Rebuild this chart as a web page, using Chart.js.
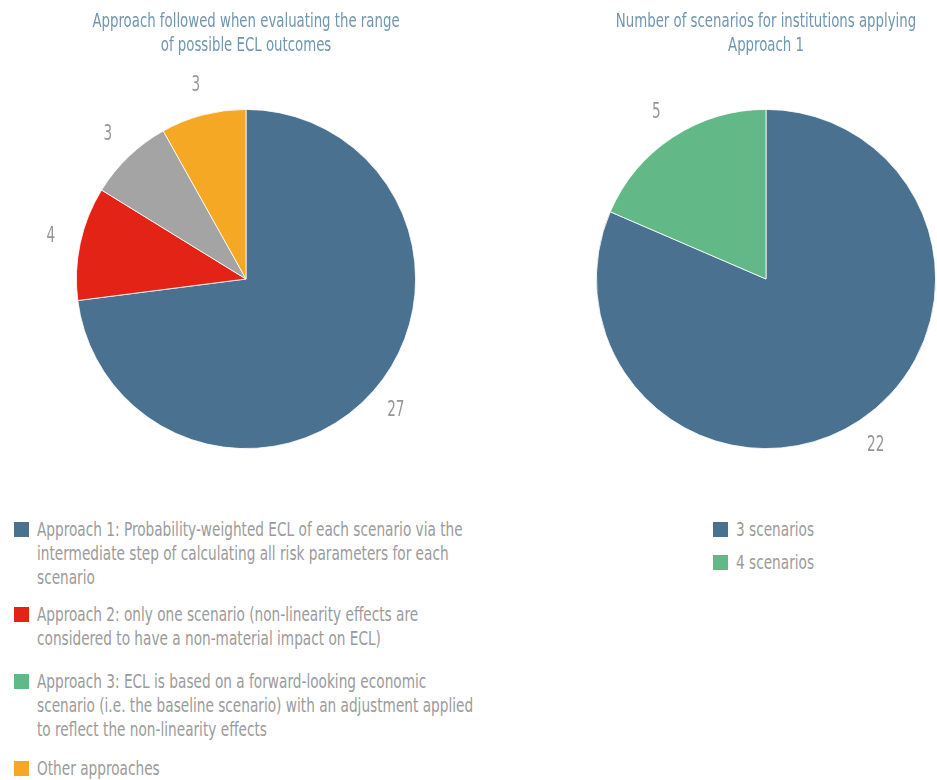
<!DOCTYPE html>
<html>
<head>
<meta charset="utf-8">
<script src="https://cdn.jsdelivr.net/npm/chart.js@4.4.0/dist/chart.umd.min.js"></script>
<style>
  body { margin: 0; background: #fff; width: 937px; height: 780px; position: relative; overflow: hidden; }
  .box { position: absolute; }
  .legend { position: absolute; font-family: "DejaVu Sans Condensed", sans-serif; font-size: 20px; color: #9b9b9b; line-height: 24px; }
  .legend .item { position: relative; padding-left: 23px; }
  .legend .sw { position: absolute; left: 0; top: 5px; width: 15px; height: 15px; }
  .legend .txt { transform: scaleX(0.76); transform-origin: left center; white-space: nowrap; }
</style>
</head>
<body>
<div class="box" style="left:0;top:0;width:492px;height:480px"><canvas id="approachChart"></canvas></div>
<div class="box" style="left:532px;top:0;width:405px;height:480px"><canvas id="scenarioChart"></canvas></div>
<div class="legend" id="approachLegend" style="left:14px;top:517px"></div>
<div class="legend" id="scenarioLegend" style="left:713px;top:517px"></div>
<script>
var approachLabels = [
    ["Approach 1: Probability-weighted ECL of each scenario via the", "intermediate step of calculating all risk parameters for each", "scenario"],
    ["Approach 2: only one scenario (non-linearity effects are", "considered to have a non-material impact on ECL)"],
    ["Approach 3: ECL is based on a forward-looking economic", "scenario (i.e. the baseline scenario) with an adjustment applied", "to reflect the non-linearity effects"],
    ["Other approaches"],
];
var approachValues = [27, 4, 3, 3];
var approachColors = ["#4a7290", "#e32316", "#a4a4a4", "#f4a824"];
var approachLegendColors = ["#4a7290", "#e32316", "#62b987", "#f4a824"];
var approachTitle = ["Approach followed when evaluating the range", "of possible ECL outcomes"];

var scenarioLabels = ["3 scenarios", "4 scenarios"];
var scenarioValues = [22, 5];
var scenarioColors = ["#4a7290", "#62b987"];
var scenarioTitle = ["Number of scenarios for institutions applying", "Approach 1"];

var fontFamily = '"DejaVu Sans Condensed", sans-serif';

// narrow text: fillText with a maxWidth squeezes the glyphs
function squeezeText(ctx, text, x, y, k) {
    var w = ctx.measureText(text).width;
    ctx.fillText(text, x, y, w * k);
}

// numbers outside each slice + condensed titles
var pieText = {
    id: "pieText",
    afterDatasetsDraw: function (chart, args, opts) {
        var ctx = chart.ctx;
        var meta = chart.getDatasetMeta(0);
        ctx.save();
        ctx.textAlign = "center";
        ctx.textBaseline = "middle";

        ctx.font = "21px " + fontFamily;
        ctx.fillStyle = "#969696";
        meta.data.forEach(function (arc, i) {
            var p = arc.getProps(["x", "y", "startAngle", "endAngle", "outerRadius"], true);
            var mid = (p.startAngle + p.endAngle) / 2;
            var r = p.outerRadius + 30;
            squeezeText(ctx, String(chart.data.datasets[0].data[i]), p.x + Math.cos(mid) * r, p.y + Math.sin(mid) * r, 0.72);
        });

        ctx.font = "20px " + fontFamily;
        ctx.fillStyle = "#7096b0";
        var cx = (chart.chartArea.left + chart.chartArea.right) / 2;
        opts.lines.forEach(function (t, i) {
            squeezeText(ctx, t, cx, 22 + i * 24, 0.74);
        });
        ctx.restore();
    },
};

function pieOptions(title, padLeft) {
    return {
        responsive: true,
        maintainAspectRatio: false,
        animation: false,
        layout: { padding: { left: padLeft, top: 109, bottom: 31 } },
        plugins: {
            legend: { display: false },
            tooltip: { enabled: false },
            title: { display: false },
            pieText: { lines: title },
        },
    };
}

var approachChart = new Chart(document.getElementById("approachChart").getContext("2d"), {
    type: "pie",
    data: {
        labels: approachLabels.map(function (l) { return l.join(" "); }),
        datasets: [
            {
                data: approachValues,
                backgroundColor: approachColors,
                borderColor: "#ffffff",
                borderWidth: 0.8,
            },
        ],
    },
    options: pieOptions(approachTitle, 0),
    plugins: [pieText],
});

var scenarioChart = new Chart(document.getElementById("scenarioChart").getContext("2d"), {
    type: "pie",
    data: {
        labels: scenarioLabels,
        datasets: [
            {
                data: scenarioValues,
                backgroundColor: scenarioColors,
                borderColor: "#ffffff",
                borderWidth: 0.8,
            },
        ],
    },
    options: pieOptions(scenarioTitle, 63),
    plugins: [pieText],
});

// html legends
function buildLegend(el, labels, colors, gaps) {
    labels.forEach(function (lines, i) {
        var item = document.createElement("div");
        item.className = "item";
        item.style.marginBottom = gaps[i] + "px";
        var sw = document.createElement("span");
        sw.className = "sw";
        sw.style.background = colors[i];
        item.appendChild(sw);
        [].concat(lines).forEach(function (t) {
            var d = document.createElement("div");
            d.className = "txt";
            d.textContent = t;
            item.appendChild(d);
        });
        el.appendChild(item);
    });
}
buildLegend(document.getElementById("approachLegend"), approachLabels, approachLegendColors, [13, 19, 15, 0]);
buildLegend(document.getElementById("scenarioLegend"), scenarioLabels, scenarioColors, [9, 0]);
</script>
</body>
</html>
